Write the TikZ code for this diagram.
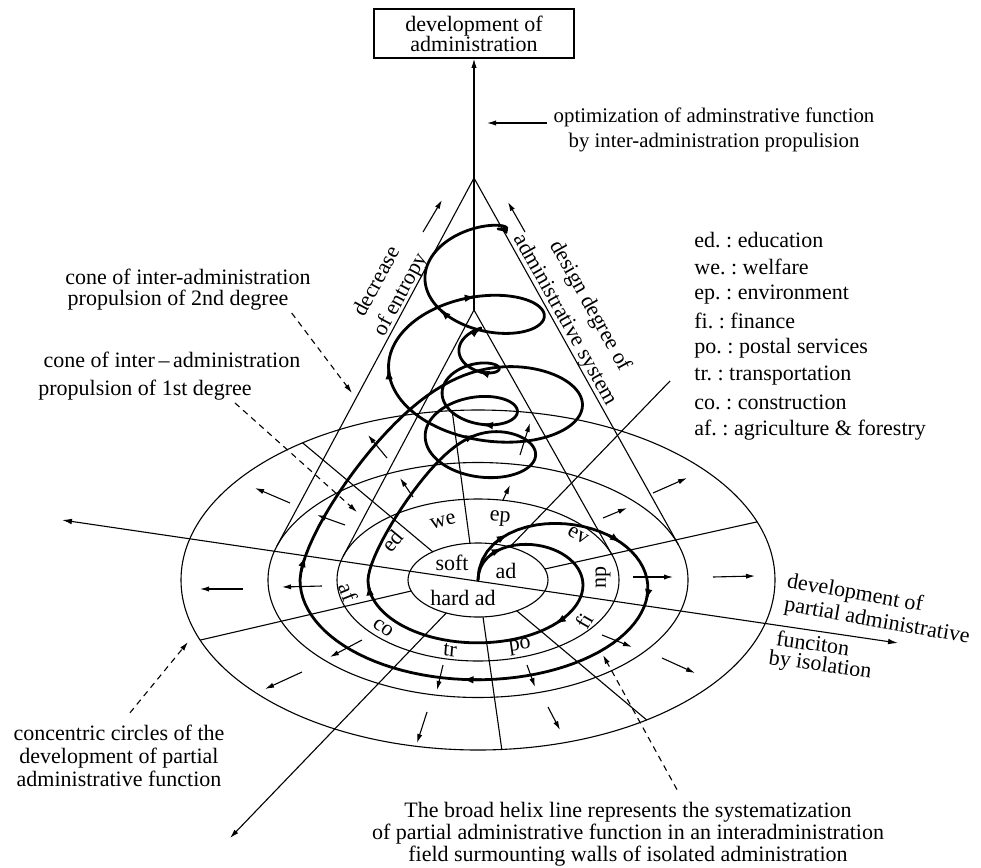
\documentclass[tikz,border=0pt]{standalone}
\usepackage{fontspec}
\setmainfont{Liberation Serif}
\usetikzlibrary{arrows.meta,calc}

% short helix pieces that carry the direction arrows
\newcommand\tipAp[1]{\draw[helix,tiphelix] plot[domain=#1-8:#1,samples=4,variable=\ang] ({478+ra(\ang)*110*cos(\ang)},{580+ra(\ang)*63*sin(\ang)});}
\newcommand\tipAr[1]{\draw[helix,tiphelix] plot[domain=#1-8:#1,samples=4,variable=\ang] ({478-4*(1-qa(\ang))+qa(\ang)*110*cos(\ang)},{580-270*(1-qa(\ang))+qa(\ang)*63*sin(\ang)});}
\newcommand\tipBp[1]{\draw[helix,tiphelix] plot[domain=#1-6:#1,samples=4,variable=\ang] ({478+ra(\ang)*178*cos(\ang)},{580+ra(\ang)*100*sin(\ang)});}
\newcommand\tipBr[1]{\draw[helix,tiphelix] plot[domain=#1-6:#1,samples=4,variable=\ang] ({478-4*(1-qb(\ang))+qb(\ang)*178*cos(\ang)},{580-426*(1-qb(\ang))+qb(\ang)*100*sin(\ang)});}

\begin{document}
\begin{tikzpicture}[x=0.5pt,y=-0.5pt,
  declare function={
    ra(\p)=1-exp(max(-9,-(\p+90)/30));
    uu(\p)=(\p-180)/360;
    gg(\p)=exp(max(-9,-(uu(\p)/0.15)*(uu(\p)/0.15)));
    qa(\p)=0.62-0.16*uu(\p)+0.38*gg(\p);
    qb(\p)=0.70-0.21*uu(\p)+0.30*gg(\p);
  },
  every node/.style={inner sep=0pt, font=\fontsize{11}{11.5}\selectfont},
  thinline/.style={line width=0.55pt},
  helix/.style={line width=1.4pt, line cap=round, line join=round},
  tipsmall/.style={-{Latex[length=4.5pt,width=2.6pt]}},
  tiphelix/.style={-{Latex[length=5.5pt,width=3.8pt]}},
  leader/.style={thinline, dash pattern=on 3pt off 2.4pt, -{Latex[length=4.5pt,width=2.6pt]}},
]
\useasboundingbox (0,0) rectangle (981,868);

% key points
\coordinate (O) at (478,580);
\coordinate (A2) at (474,178);
\coordinate (A1) at (474,310);
\coordinate (T2L) at (276.9,546.0);
\coordinate (T2R) at (678.4,544.7);
\coordinate (T1L) at (343.1,556.4);
\coordinate (T1R) at (612.1,555.0);
\coordinate (HL) at (62,520);
\coordinate (HR) at (898,643);
\coordinate (DL) at (230,838);
\coordinate (DU) at (670,381);

% title box
\node[draw, line width=0.8pt, minimum width=100pt, minimum height=24.5pt, align=center,
      font=\fontsize{11}{10}\selectfont] (top) at (474,33.5) {development of\\administration};

% concentric circles of the partial functions
\draw[thinline] (O) ellipse [x radius=70, y radius=37];
\draw[thinline] (O) ellipse [x radius=141, y radius=81];
\draw[thinline] (O) ellipse [x radius=210, y radius=117.5];
\draw[thinline] (O) ellipse [x radius=297, y radius=170];

% sector walls
\foreach \i/\o in {-130.3/-126.2, -96.6/-95, -17.3/-20, 56.4/55.4, 85.9/85.4, 162.7/159.3}
  \draw[thinline] ($(O)+(\i:70 and 37)$) -- ($(O)+(\o:297 and 170)$);

% axes
\draw[thinline,{Latex[length=5pt,width=2.8pt]}-{Latex[length=5pt,width=2.8pt]}] (HL) -- (HR);
\draw[thinline,tipsmall] ($(O)+(117:70 and 37)$) -- (DL);
\draw[thinline] ($(O)+(-63:70 and 37)$) -- (DU);

% cones of inter-administration propulsion
\draw[thinline] (T2L) -- (A2) -- (T2R);
\draw[thinline] (T1L) -- (A1) -- (T1R);
\draw[thinline,tipsmall] (A1) -- (top.south);

% arrows along the cone
\coordinate (eL0) at (423,232); \coordinate (eL1) at (442,200);
\coordinate (eR0) at (525,232); \coordinate (eR1) at (508,202);
\draw[thinline,tipsmall] (eL0) -- (eL1);
\draw[thinline,tipsmall] (eR0) -- (eR1);

% optimization arrow
\coordinate (op0) at (547,123); \coordinate (op1) at (487,123);
\draw[thinline,tipsmall] (op0) -- (op1);

% radial growth arrows
\foreach \xa/\ya/\xb/\yb in {
  413/497/400/478, 503/500/510/485, 603/518/627/508, 633/577/673/577,
  602/635/632/647, 527/665/535/687, 443/665/437/690, 362/640/330/657,
  322/586/282/587, 345/525/317/515,
  387/458/368/435, 520/455/530/423, 653/493/687/478, 713/577/755/576,
  662/658/695/673, 548/707/560/730, 427/712/417/743, 302/672/265/689,
  243/589/200/589, 290/503/255/488}
  \draw[thinline,tipsmall] (\xa,\ya) -- (\xb,\yb);

% broad helix lines
\draw[helix,tiphelix] plot[domain=-90:180,samples=80,variable=\ang]
   ({478+ra(\ang)*110*cos(\ang)},{580+ra(\ang)*63*sin(\ang)})
 -- plot[domain=180:1404,samples=340,variable=\ang]
   ({478-4*(1-qa(\ang))+qa(\ang)*110*cos(\ang)},{580-270*(1-qa(\ang))+qa(\ang)*63*sin(\ang)});
\draw[helix,tiphelix] plot[domain=-90:180,samples=80,variable=\ang]
   ({478+ra(\ang)*178*cos(\ang)},{580+ra(\ang)*100*sin(\ang)})
 -- plot[domain=180:1116,samples=280,variable=\ang]
   ({478-4*(1-qb(\ang))+qb(\ang)*178*cos(\ang)},{580-426*(1-qb(\ang))+qb(\ang)*100*sin(\ang)});
\tipAp{-66} \tipAp{45} \tipAp{176}
\tipAr{270} \tipAr{800} \tipAr{1160}
\tipBp{-70} \tipBp{-25} \tipBp{12} \tipBp{95}
\tipBr{190} \tipBr{535} \tipBr{630} \tipBr{850}

% sector labels
\node[rotate=50]  (l-ed) at (392,541) {ed};
\node[rotate=15]  (l-we) at (443,521) {we};
\node[rotate=-5]  (l-ep) at (500,519) {ep};
\node[rotate=-30] (l-ev) at (578,535) {ev};
\node[rotate=90]  (l-np) at (603,577) {np};
\node[rotate=60]  (l-fi) at (584,621) {fi};
\node[rotate=8]   (l-po) at (520,647) {po};
\node[rotate=-5]  (l-tr) at (450,650) {tr};
\node[rotate=-35] (l-co) at (383,628) {co};
\node[rotate=-68] (l-af) at (348,592) {af};
\node (l-soft) at (452,563) {soft};
\node (l-ad)   at (506,571) {ad};
\node (l-hard) at (463,598) {hard ad};

% texts along the cone
\node[rotate=61.8] (entropy1) at (375.5,281) {decrease};
\node[rotate=61.8] (entropy2) at (401,295) {of entropy};
\node[rotate=-60.9] (design1) at (589.5,306) {design degree of};
\node[rotate=-60.9] (design2) at (564.5,320) {administrative system};

% optimization text
\node[align=center, font=\fontsize{10.4}{12.5}\selectfont] (opt) at (714,130)
  {optimization of adminstrative function\\by inter-administration propulision};

% legend
\foreach \k/\t [count=\n] in {ed./education, we./welfare, ep./environment, fi./finance,
  po./postal services, tr./transportation, co./construction, af./agriculture \& forestry}
  \node[anchor=west] (leg-\n) at (694,{240+27.1*(\n-1)}) {\k\ :\ \t};

% cone captions
\node (c2a) at (188,277) {cone of inter-administration};
\node (c2b) at (178,300) {propulsion of 2nd degree};
\node (c1a) at (172,360) {cone of inter\,--\,administration};
\node (c1b) at (145,390) {propulsion of 1st degree};
\coordinate (k2) at (352,393);
\coordinate (k1) at (357,512);
\draw[leader] (c2b.east) ++(3,13) -- (k2);
\draw[leader] (c1b.east) ++(-17,13) -- (k1);

% isolation axis captions
\node[rotate=-10] (dev1) at (855,594) {development of};
\node[rotate=-10] (dev2) at (877,622) {partial administrative};
\node[rotate=-8]  (dev3) at (813,643) {funciton};
\node[rotate=-8]  (dev4) at (820,666) {by isolation};

% concentric circle caption
\node[align=center] (conc) at (119,756) {concentric circles of the\\development of partial\\administrative function};
\coordinate (kc) at (188,642);
\draw[leader] (conc.north) ++(11,-12) -- (kc);

% helix caption
\node[align=center, font=\fontsize{11}{11}\selectfont] (broad) at (628,834)
  {The broad helix line represents the systematization\\of partial administrative function in an interadministration\\field surmounting walls of isolated administration};
\coordinate (kb) at (603,655);
\draw[leader] (broad.north) ++(49,-12) -- (kb);

\end{tikzpicture}
\end{document}
